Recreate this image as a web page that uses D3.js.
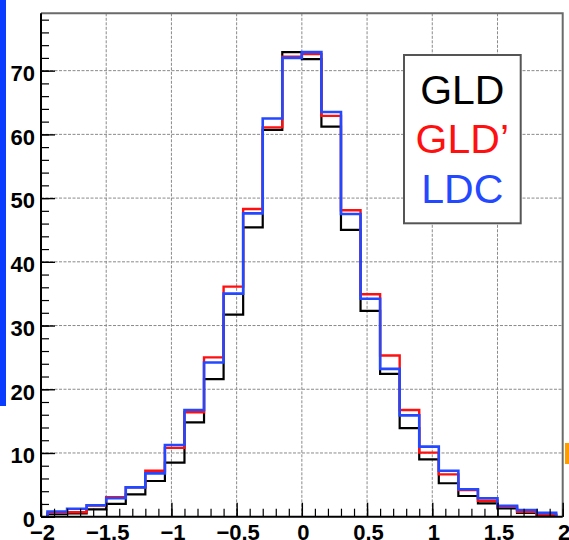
<!DOCTYPE html>
<html>
<head>
<meta charset="utf-8">
<script src="https://cdn.jsdelivr.net/npm/d3@7"></script>
<style>
  html, body { margin: 0; padding: 0; background: #fff; }
  svg { display: block; }
  text { font-family: "Liberation Sans", Arial, Helvetica, sans-serif; }
</style>
</head>
<body>
<svg id="chart" width="569" height="540"></svg>
<script>
// Histogram binning: 26 bins of width 0.15 from -1.95 to 1.95
const binLow = -1.95;
const binWidth = 0.15;

// Bin contents per detector model
const gldValues  = [0.4, 0.5, 1.15, 2.0, 3.5, 5.6, 8.5, 14.8, 21.6, 31.7, 45.4, 60.7, 72.9,
                    71.8, 61.2, 45.0, 32.3, 22.4, 13.9, 9.0, 5.25, 3.25, 2.1, 1.3, 0.6, 0.25];
const gldpValues = [0.6, 0.7, 1.75, 3.05, 4.6, 7.2, 10.8, 16.4, 25.0, 36.1, 48.3, 61.1, 72.2,
                    72.6, 62.9, 48.1, 34.9, 25.3, 16.75, 10.05, 6.65, 4.2, 2.5, 1.55, 0.75, 0.35];
const ldcValues  = [0.8, 1.25, 1.8, 2.9, 4.6, 6.8, 11.25, 16.75, 24.2, 35.0, 47.6, 62.5, 72.0,
                    72.9, 63.5, 47.5, 34.2, 23.2, 15.9, 11.0, 7.2, 4.3, 2.9, 1.7, 1.05, 0.6];

const seriesNames = ["GLD", "GLD\u2019", "LDC"];

// Axis ticks
const xTicks = [-2, -1.5, -1, -0.5, 0, 0.5, 1, 1.5, 2];
const xTickLabels = ["\u22122", "\u22121.5", "\u22121", "\u22120.5", "0", "0.5", "1", "1.5", "2"];
const yTicks = [0, 10, 20, 30, 40, 50, 60, 70];
const yTickLabels = ["0", "10", "20", "30", "40", "50", "60", "70"];

const svg = d3.select("#chart");

const padL = 41, padR = 562.7, padT = 13.3, padB = 516.7;

const x = d3.scaleLinear().domain([-2, 2]).range([padL, padR]);
const y = d3.scaleLinear().domain([0, 79]).range([padB, padT]);

// Side markers
svg.append("rect").attr("x", 0).attr("y", 0).attr("width", 6).attr("height", 406)
  .attr("fill", "#0a3cff");
svg.append("rect").attr("x", 565).attr("y", 443).attr("width", 4).attr("height", 21)
  .attr("fill", "#ff9c00");

// Grid
const grid = svg.append("g").attr("stroke", "#8a8a8a").attr("stroke-width", 1)
  .attr("stroke-dasharray", "3,1.5");
xTicks.filter(t => t > -2 && t < 2).forEach(t => {
  grid.append("line").attr("x1", x(t)).attr("x2", x(t)).attr("y1", padT).attr("y2", padB);
});
yTicks.filter(t => t > 0).forEach(t => {
  grid.append("line").attr("x1", padL).attr("x2", padR).attr("y1", y(t)).attr("y2", y(t));
});

// Frame (top and right)
svg.append("path")
  .attr("d", `M${padL},${padT}H${padR}V${padB}`)
  .attr("fill", "none").attr("stroke", "#6a6a6a").attr("stroke-width", 2);

// Histograms as step outlines
function stepPath(vals) {
  let p = `M${x(binLow)},${y(0)}`;
  vals.forEach((v, i) => {
    const x0 = x(binLow + i * binWidth), x1 = x(binLow + (i + 1) * binWidth);
    p += `L${x0},${y(v)}L${x1},${y(v)}`;
  });
  p += `L${x(binLow + vals.length * binWidth)},${y(0)}`;
  return p;
}
const hists = [
  { vals: gldValues, color: "#000000", w: 2.2 },
  { vals: gldpValues, color: "#ff1010", w: 2.4 },
  { vals: ldcValues, color: "#2448ff", w: 2.6 }
];
hists.forEach(h => {
  svg.append("path").attr("d", stepPath(h.vals))
    .attr("fill", "none").attr("stroke", h.color).attr("stroke-width", h.w)
    .attr("stroke-linejoin", "miter");
});

// Y axis: ticks pointing inward
const yMinor = d3.range(0, 79, 2);
svg.append("g").attr("transform", `translate(${padL},0)`)
  .call(d3.axisLeft(y).tickValues(yMinor).tickSize(-8).tickFormat(""))
  .call(g => g.select(".domain").remove())
  .selectAll("line").attr("stroke", "#000").attr("stroke-width", 1.2);
const yAxis = svg.append("g").attr("transform", `translate(${padL},0)`)
  .call(d3.axisLeft(y).tickValues(yTicks).tickSize(-14).tickPadding(6)
    .tickFormat((d, i) => yTickLabels[i]));
yAxis.select(".domain").attr("stroke", "#000").attr("stroke-width", 2)
  .attr("d", `M0,${padT}V${padB}`);
yAxis.selectAll("line").attr("stroke", "#000").attr("stroke-width", 1.4);
yAxis.selectAll("text").attr("fill", "#000").attr("font-size", 22).attr("font-weight", "bold")
  .attr("font-family", "'Liberation Sans', Arial, sans-serif").attr("dy", "0.45em");

// X axis: ticks pointing inward
const xMinor = d3.range(-20, 21, 1).map(v => v / 10);
svg.append("g").attr("transform", `translate(0,${padB})`)
  .call(d3.axisBottom(x).tickValues(xMinor).tickSize(-8).tickFormat(""))
  .call(g => g.select(".domain").remove())
  .selectAll("line").attr("stroke", "#000").attr("stroke-width", 1.2);
const xAxis = svg.append("g").attr("transform", `translate(0,${padB})`)
  .call(d3.axisBottom(x).tickValues(xTicks).tickSize(-14).tickPadding(8)
    .tickFormat((d, i) => xTickLabels[i]));
xAxis.select(".domain").attr("stroke", "#000").attr("stroke-width", 2)
  .attr("d", `M${padL},0H${padR}`);
xAxis.selectAll("line").attr("stroke", "#000").attr("stroke-width", 1.4);
xAxis.selectAll("text").attr("fill", "#000").attr("font-size", 22).attr("font-weight", "bold")
  .attr("font-family", "'Liberation Sans', Arial, sans-serif").attr("dy", "0.71em")
  .attr("dx", 1);

// Legend
const legend = svg.append("g");
legend.append("rect").attr("x", 404).attr("y", 55).attr("width", 116.7).attr("height", 168.3)
  .attr("fill", "#fff").attr("stroke", "#555").attr("stroke-width", 2);
const legendColors = ["#000000", "#ff1010", "#2448ff"];
const legendBaselines = [104, 152.7, 203.3];
seriesNames.forEach((n, i) => {
  legend.append("text").attr("x", 462.3).attr("y", legendBaselines[i])
    .attr("text-anchor", "middle").attr("font-size", 41).attr("fill", legendColors[i])
    .text(n);
});
</script>
</body>
</html>
